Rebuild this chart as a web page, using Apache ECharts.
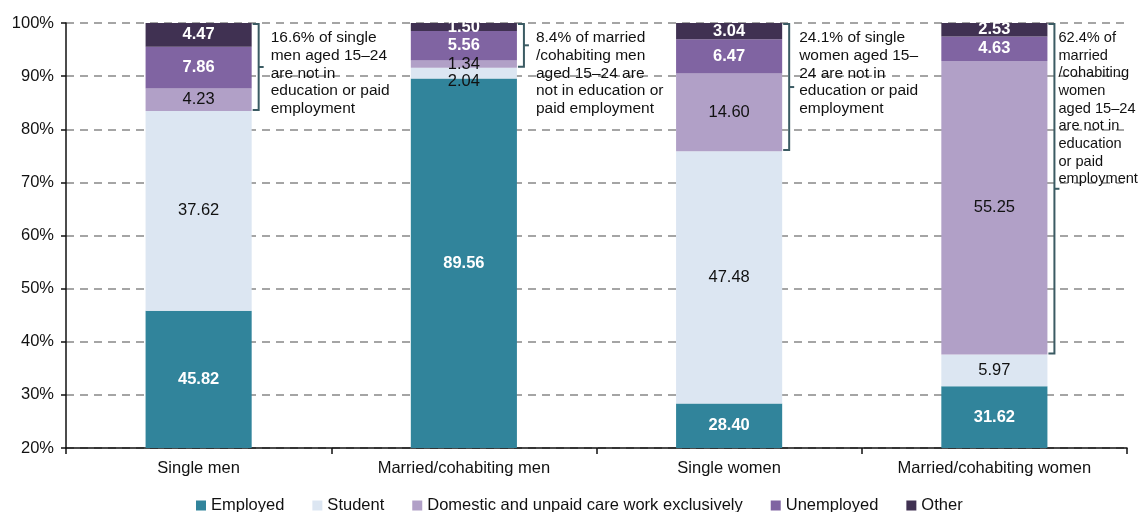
<!DOCTYPE html>
<html lang="en">

<head>
  <meta charset="UTF-8">
  <title>Activity status of young people aged 15-24</title>
  <script src="https://cdn.jsdelivr.net/npm/echarts@6/dist/echarts.min.js"></script>
  <style>
    html, body { margin: 0; padding: 0; background: #fff; }
    #chart { width: 1142px; height: 512px; }
  </style>
</head>

<body>
  <div id="chart"></div>
  <script>
    // data
    const categories = ['Single men', 'Married/cohabiting men', 'Single women', 'Married/cohabiting women'];
    const employed = [45.82, 89.56, 28.40, 31.62];
    const student = [37.62, 2.04, 47.48, 5.97];
    const domestic = [4.23, 1.34, 14.60, 55.25];
    const unemployed = [7.86, 5.56, 6.47, 4.63];
    const other = [4.47, 1.50, 3.04, 2.53];
    const yTicks = [20, 30, 40, 50, 60, 70, 80, 90, 100];
    const notes = [
      '16.6% of single\nmen aged 15\u201324\nare not in\neducation or paid\nemployment',
      '8.4% of married\n/cohabiting men\naged 15\u201324 are\nnot in education or\npaid employment',
      '24.1% of single\nwomen aged 15\u2013\n24 are not in\neducation or paid\nemployment',
      '62.4% of\nmarried\n/cohabiting\nwomen\naged 15\u201324\nare not in\neducation\nor paid\nemployment'
    ];

    const colors = {
      Employed: '#31849b',
      Student: '#dce6f2',
      Domestic: '#b1a0c7',
      Unemployed: '#8064a2',
      Other: '#403152'
    };
    const font = '"Liberation Sans", Arial, sans-serif';
    const noteDx = [19, 19, 17, 11];
    const noteSize = [15.5, 15.5, 15.5, 14.6];

    // NEET share = domestic + unemployed + other, bracket runs from 100 down
    const neetLow = categories.map((c, i) => 100 - (domestic[i] + unemployed[i] + other[i]));

    function barSeries(name, values, color, white) {
      return {
        name: name,
        type: 'bar',
        stack: 'total',
        barCategoryGap: '60%',
        itemStyle: { color: color },
        label: {
          show: true,
          position: 'inside',
          fontFamily: font,
          fontSize: 16.5,
          fontWeight: white ? 'bold' : 'normal',
          color: white ? '#fff' : '#111',
          formatter: p => p.value.toFixed(2)
        },
        data: values.map(v => v)
      };
    }

    const studentSeries = barSeries('Student', student, colors.Student, false);
    // 2.04 label sits below its thin segment
    studentSeries.data[1] = { value: student[1], label: { offset: [0, 8] } };

    const chart = echarts.init(document.getElementById('chart'));
    const option = {
      animation: false,
      textStyle: { fontFamily: font },
      grid: { left: 66, right: 15, top: 23, bottom: 64 },
      legend: {
        top: 492,
        left: 191,
        itemWidth: 10,
        itemHeight: 10,
        itemGap: 28,
        icon: 'rect',
        textStyle: { fontFamily: font, fontSize: 16.5, color: '#111' },
        data: ['Employed', 'Student', 'Domestic and unpaid care work exclusively', 'Unemployed', 'Other']
      },
      xAxis: {
        type: 'category',
        data: categories,
        axisLine: { lineStyle: { color: '#111', width: 1.5 } },
        axisTick: { show: true, length: 6, lineStyle: { color: '#111', width: 1.5 } },
        axisLabel: { fontFamily: font, fontSize: 16.5, color: '#111', margin: 12 }
      },
      yAxis: {
        type: 'value',
        min: yTicks[0],
        max: yTicks[yTicks.length - 1],
        interval: 10,
        axisLine: { show: true, lineStyle: { color: '#111', width: 1.5 } },
        axisTick: { show: true, length: 5, lineStyle: { color: '#111', width: 1.5 } },
        axisLabel: { fontFamily: font, fontSize: 16.5, color: '#111', margin: 12, formatter: '{value}%' },
        splitLine: { lineStyle: { color: '#888', width: 1.5, type: [8, 6] } }
      },
      series: [
        barSeries('Employed', employed, colors.Employed, true),
        studentSeries,
        barSeries('Domestic and unpaid care work exclusively', domestic, colors.Domestic, false),
        barSeries('Unemployed', unemployed, colors.Unemployed, true),
        barSeries('Other', other, colors.Other, true),
        {
          name: 'neet',
          type: 'custom',
          clip: false,
          silent: true,
          encode: { x: 0, y: [1, 2] },
          data: categories.map((c, i) => [i, 100, neetLow[i]]),
          renderItem: function (params, api) {
            const i = api.value(0);
            const top = api.coord([i, api.value(1)]);
            const bot = api.coord([i, api.value(2)]);
            const catW = api.size([1, 0])[0];
            const right = top[0] + catW * 0.2;
            const x = right + 7;
            const mid = (top[1] + bot[1]) / 2;
            const stroke = { stroke: '#3b5b63', lineWidth: 2, fill: null };
            return {
              type: 'group',
              children: [
                {
                  type: 'polyline',
                  shape: { points: [[right + 1, top[1] + 1], [x, top[1] + 1], [x, bot[1] - 1], [right + 1, bot[1] - 1]] },
                  style: stroke
                },
                { type: 'line', shape: { x1: x, y1: mid, x2: x + 5, y2: mid }, style: stroke },
                {
                  type: 'text',
                  x: right + noteDx[i],
                  y: top[1] + 6,
                  style: {
                    text: notes[i],
                    fontFamily: font,
                    fontSize: noteSize[i],
                    lineHeight: 17.7,
                    fill: '#111',
                    verticalAlign: 'top',
                    align: 'left'
                  }
                }
              ]
            };
          }
        }
      ]
    };
    chart.setOption(option);
  </script>
</body>

</html>
